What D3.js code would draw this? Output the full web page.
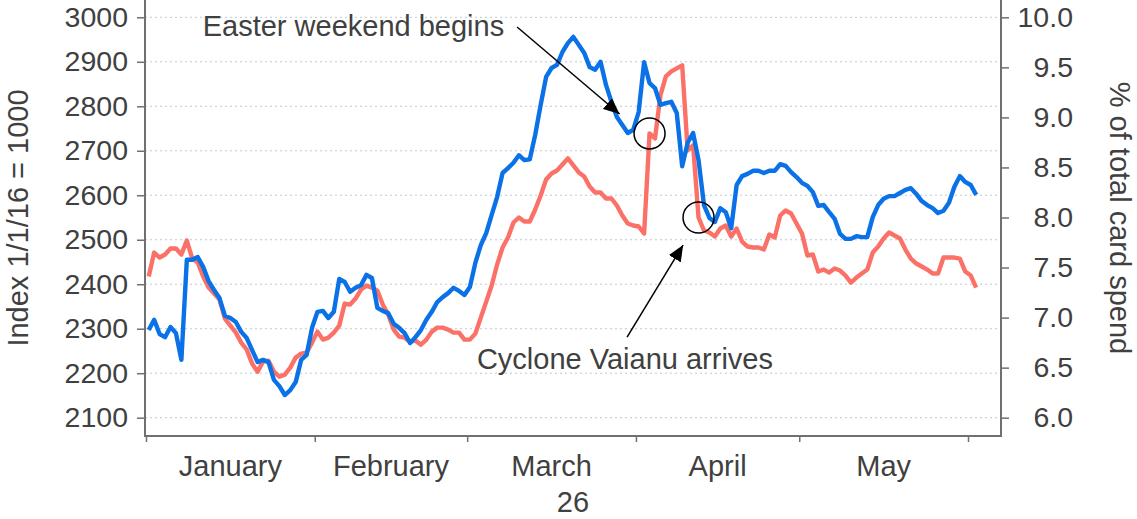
<!DOCTYPE html>
<html>
<head>
<meta charset="utf-8">
<script src="https://cdn.jsdelivr.net/npm/d3@7"></script>
<style>
  body { margin: 0; background: #fff; }
  svg { display: block; font-family: "Liberation Sans", Arial, sans-serif; }
</style>
</head>
<body>
<div id="chart"></div>
<script>
// daily readings, first one at midday on 1 Jan
const firstDay = "2026-01-01T12:00:00Z";

// blue line, left axis (index 1/1/16 = 1000)
const indexValues = [
  2297, 2320, 2288, 2281, 2304, 2290, 2230, 2455, 2455, 2461,
  2439, 2407, 2387, 2369, 2329, 2324, 2315, 2293, 2279, 2252,
  2225, 2230, 2225, 2185, 2171, 2151, 2162, 2180, 2230, 2241,
  2302, 2338, 2340, 2324, 2338, 2412, 2405, 2383, 2392, 2398,
  2421, 2414, 2347, 2340, 2335, 2311, 2302, 2290, 2268, 2281,
  2297, 2320, 2338, 2360, 2371, 2380, 2392, 2385, 2376, 2394,
  2448, 2488, 2515, 2556, 2596, 2650, 2661, 2673, 2690, 2679,
  2681, 2736, 2803, 2866, 2886, 2893, 2922, 2942, 2956, 2938,
  2920, 2888, 2882, 2900, 2848, 2810, 2776, 2758, 2740, 2747,
  2787, 2899, 2852, 2841, 2803, 2807, 2810, 2785, 2665, 2718,
  2740, 2679, 2578, 2549, 2540, 2571, 2562, 2526, 2623, 2643,
  2648, 2655, 2655, 2650, 2655, 2655, 2670, 2666, 2652, 2641,
  2628, 2621, 2607, 2576, 2578, 2562, 2547, 2513, 2502, 2502,
  2508, 2506, 2506, 2551, 2578, 2592, 2598, 2598, 2605, 2612,
  2616, 2603, 2587, 2578, 2571, 2560, 2565, 2583, 2619, 2643,
  2630, 2623, 2601
];

// red line, right axis (% of total card spend)
const shareValues = [
  7.41, 7.65, 7.60, 7.63, 7.69, 7.69, 7.63, 7.77, 7.59, 7.55,
  7.41, 7.30, 7.24, 7.18, 6.99, 6.92, 6.85, 6.75, 6.68, 6.54,
  6.46, 6.56, 6.57, 6.46, 6.41, 6.43, 6.50, 6.60, 6.64, 6.65,
  6.75, 6.86, 6.78, 6.80, 6.85, 6.92, 7.14, 7.13, 7.19, 7.28,
  7.32, 7.30, 7.27, 7.13, 7.03, 6.88, 6.81, 6.80, 6.76, 6.77,
  6.73, 6.78, 6.86, 6.90, 6.90, 6.88, 6.85, 6.85, 6.78, 6.78,
  6.84, 7.00, 7.16, 7.32, 7.53, 7.70, 7.80, 7.95, 8.00, 7.96,
  7.96, 8.08, 8.22, 8.38, 8.44, 8.47, 8.53, 8.59, 8.52, 8.45,
  8.41, 8.31, 8.25, 8.25, 8.19, 8.19, 8.12, 8.02, 7.94, 7.92,
  7.91, 7.84, 8.84, 8.79, 9.22, 9.41, 9.46, 9.49, 9.52, 8.67,
  8.72, 8.00, 7.87, 7.85, 7.81, 7.89, 7.92, 7.81, 7.89, 7.76,
  7.71, 7.70, 7.70, 7.68, 7.83, 7.80, 8.02, 8.07, 8.04, 7.94,
  7.84, 7.62, 7.63, 7.46, 7.48, 7.45, 7.49, 7.47, 7.42, 7.35,
  7.40, 7.44, 7.48, 7.65, 7.71, 7.79, 7.85, 7.82, 7.79, 7.68,
  7.59, 7.54, 7.51, 7.48, 7.44, 7.44, 7.60, 7.60, 7.60, 7.59,
  7.46, 7.42, 7.30
];

const monthStarts = ["2026-01-01", "2026-02-01", "2026-03-01", "2026-04-01", "2026-05-01", "2026-06-01"];
const monthNames = ["January", "February", "March", "April", "May"];
const indexTicks = [2100, 2200, 2300, 2400, 2500, 2600, 2700, 2800, 2900, 3000];
const shareTicks = [6.0, 6.5, 7.0, 7.5, 8.0, 8.5, 9.0, 9.5, 10.0];
const xTitle = "26";

// annotations, placed in date / right-axis units
const noteTexts = ["Easter weekend begins", "Cyclone Vaianu arrives"];
const noteAt = [["2026-01-11T10:00:00Z", 9.81], ["2026-03-02T19:00:00Z", 6.487]];
const arrowFrom = [["2026-03-10T04:00:00Z", 9.903], ["2026-03-30T09:00:00Z", 6.806]];
const arrowTo = [["2026-03-29T00:00:00Z", 9.034], ["2026-04-09T16:00:00Z", 7.725]];
const circleAt = [["2026-04-03T12:00:00Z", 8.84], ["2026-04-12T12:00:00Z", 8.00]];

const W = 1137, H = 519;
const box = { left: 145, right: 1001, top: 0, bottom: 436 };
const textColor = "#404040";
const axisColor = "#707070";

const svg = d3.select("#chart").append("svg")
    .attr("width", W)
    .attr("height", H);

const x = d3.scaleUtc()
    .domain([new Date(monthStarts[0]), new Date(monthStarts[5])])
    .range([146, 968]);
const yL = d3.scaleLinear().domain([2100, 3000]).range([417.7, 17.3]);
const yR = d3.scaleLinear().domain([6, 10]).range([417.7, 17.3]);

const start = new Date(firstDay);
const blue = indexValues.map((v, i) => ({ date: d3.utcDay.offset(start, i), v }));
const red = shareValues.map((v, i) => ({ date: d3.utcDay.offset(start, i), v }));

// grid
svg.append("g")
    .selectAll("line")
    .data(indexTicks)
    .join("line")
    .attr("x1", box.left)
    .attr("x2", box.right)
    .attr("y1", d => yL(d))
    .attr("y2", d => yL(d))
    .attr("stroke", "#bccbd3")
    .attr("stroke-width", 1)
    .attr("stroke-dasharray", "2,3");

// lines
const lineL = d3.line().x(d => x(d.date)).y(d => yL(d.v));
const lineR = d3.line().x(d => x(d.date)).y(d => yR(d.v));

svg.append("path")
    .datum(red)
    .attr("fill", "none")
    .attr("stroke", "#fb7168")
    .attr("stroke-width", 4.4)
    .attr("stroke-linejoin", "round")
    .attr("d", lineR);

svg.append("path")
    .datum(blue)
    .attr("fill", "none")
    .attr("stroke", "#0a72e6")
    .attr("stroke-width", 4.4)
    .attr("stroke-linejoin", "round")
    .attr("d", lineL);

// axes
function styleAxis(g, size) {
    g.select(".domain").remove();
    g.selectAll(".tick line").attr("stroke", axisColor).attr("stroke-width", 1.5);
    g.selectAll(".tick text").attr("fill", textColor).style("font-size", size + "px");
}

svg.append("g")
    .attr("transform", `translate(${box.left},0)`)
    .call(d3.axisLeft(yL).tickValues(indexTicks).tickFormat(d3.format("d")).tickSize(8).tickPadding(9).tickSizeOuter(0))
    .call(g => styleAxis(g, 28.5));

svg.append("g")
    .attr("transform", `translate(${box.right},0)`)
    .call(d3.axisRight(yR).tickValues(shareTicks).tickFormat(d3.format(".1f")).tickSize(8).tickSizeOuter(0))
    .call(g => styleAxis(g, 28.5))
    .call(g => g.selectAll(".tick text").attr("x", 72).attr("text-anchor", "end"));

svg.append("g")
    .attr("transform", `translate(0,${box.bottom})`)
    .call(d3.axisBottom(x).tickValues(monthStarts.map(d => new Date(d))).tickFormat("").tickSize(6).tickSizeOuter(0))
    .call(g => styleAxis(g, 28.5));

// spines
svg.append("path")
    .attr("d", `M${box.left},${box.top}V${box.bottom}H${box.right}V${box.top}`)
    .attr("fill", "none")
    .attr("stroke", axisColor)
    .attr("stroke-width", 2);

// month labels, centred between month starts
svg.append("g")
    .selectAll("text")
    .data(monthNames)
    .join("text")
    .attr("x", (d, i) => (x(new Date(monthStarts[i])) + x(new Date(monthStarts[i + 1]))) / 2)
    .attr("y", 476)
    .attr("text-anchor", "middle")
    .attr("fill", textColor)
    .style("font-size", "29px")
    .text(d => d);

svg.append("text")
    .attr("x", (box.left + box.right) / 2)
    .attr("y", 512)
    .attr("text-anchor", "middle")
    .attr("fill", textColor)
    .style("font-size", "29px")
    .text(xTitle);

// axis titles
const midY = (box.top + box.bottom) / 2;
svg.append("text")
    .attr("transform", `translate(28,${midY}) rotate(-90)`)
    .attr("text-anchor", "middle")
    .attr("fill", textColor)
    .style("font-size", "29px")
    .text("Index 1/1/16 = 1000");

svg.append("text")
    .attr("transform", `translate(1110,${midY}) rotate(90)`)
    .attr("text-anchor", "middle")
    .attr("fill", textColor)
    .style("font-size", "29px")
    .text("% of total card spend");

// annotations
svg.append("defs").append("marker")
    .attr("id", "head")
    .attr("viewBox", "0 -7 16 14")
    .attr("refX", 16)
    .attr("refY", 0)
    .attr("markerUnits", "userSpaceOnUse")
    .attr("markerWidth", 16)
    .attr("markerHeight", 14)
    .attr("orient", "auto")
    .append("path")
    .attr("d", "M0,-7L16,0L0,7Z")
    .attr("fill", "#000");

const ann = svg.append("g");

ann.selectAll("circle")
    .data(circleAt)
    .join("circle")
    .attr("cx", d => x(new Date(d[0])))
    .attr("cy", d => yR(d[1]))
    .attr("r", 15.5)
    .attr("fill", "none")
    .attr("stroke", "#000")
    .attr("stroke-width", 1.5);

ann.selectAll("line")
    .data(arrowFrom)
    .join("line")
    .attr("x1", d => x(new Date(d[0])))
    .attr("y1", d => yR(d[1]))
    .attr("x2", (d, i) => x(new Date(arrowTo[i][0])))
    .attr("y2", (d, i) => yR(arrowTo[i][1]))
    .attr("stroke", "#000")
    .attr("stroke-width", 1.5)
    .attr("marker-end", "url(#head)");

ann.selectAll("text")
    .data(noteTexts)
    .join("text")
    .attr("x", (d, i) => x(new Date(noteAt[i][0])))
    .attr("y", (d, i) => yR(noteAt[i][1]))
    .attr("fill", textColor)
    .style("font-size", "29px")
    .text(d => d);
</script>
</body>
</html>
